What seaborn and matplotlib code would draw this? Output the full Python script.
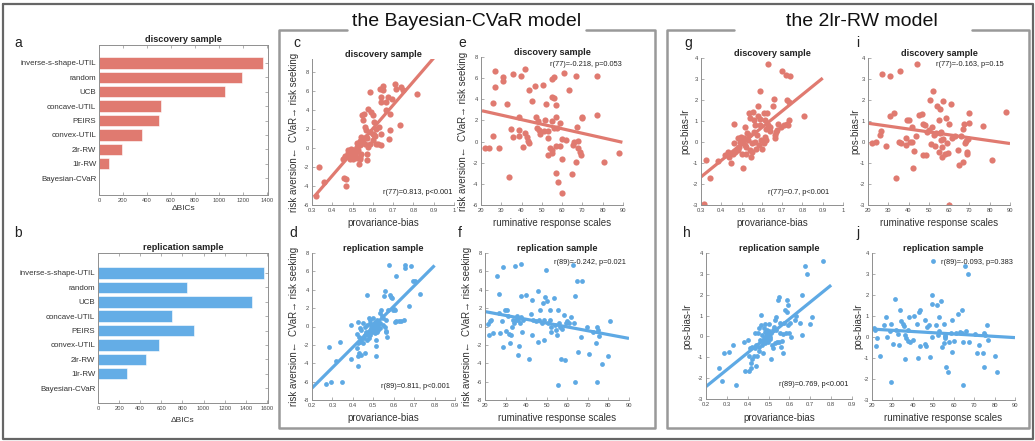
import numpy as np
import pandas as pd
import matplotlib
matplotlib.use("Agg")
import matplotlib.pyplot as plt
from matplotlib.lines import Line2D
from matplotlib.ticker import FuncFormatter
import seaborn as sns

# ---------------- data ----------------
models = ["inverse-s-shape-UTIL", "random", "UCB", "concave-UTIL", "PEIRS",
          "convex-UTIL", "2lr-RW", "1lr-RW", "Bayesian-CVaR"]
dbic_discovery = [1370, 1190, 1050, 520, 500, 355, 190, 80, 0]
dbic_replication = [1570, 840, 1455, 705, 905, 575, 455, 275, 0]

# panel c: provariance-bias vs CVaR (discovery)
c_pts = [(0.335,-1.97),(0.321,-5.1),(0.357,-3.55),(0.458,-3.1),(0.468,-3.27),(0.466,-3.97),
         (0.464,-0.82),(0.476,-0.5),(0.486,-1.2),(0.494,-0.93),(0.506,-0.78),(0.515,-0.4),
         (0.522,0.13),(0.532,-1.65),(0.535,-1.2),(0.543,1.17),(0.538,0.75),(0.548,3.45),
         (0.557,3.55),(0.56,2.2),(0.565,1.95),(0.57,1.1),(0.57,-0.58),(0.57,-1.28),
         (0.576,4.15),(0.584,5.9),(0.593,3.8),(0.6,3.5),(0.587,0.48),(0.6,0.83),(0.61,1.25),
         (0.617,2.05),(0.617,0.48),(0.627,0.48),(0.63,2.23),(0.634,6.25),(0.642,5.37),
         (0.65,6.6),(0.65,6.1),(0.642,4.85),(0.664,4.85),(0.667,3.97),(0.675,5.37),
         (0.683,3.62),(0.692,5.2),(0.678,1.0),(0.683,1.88),(0.708,6.77),(0.713,6.25),
         (0.733,2.4),(0.741,6.42),(0.749,6.15),(0.818,5.72),(0.527,-0.15),(0.535,0.3),
         (0.551,0.65),(0.56,0.4),(0.543,-0.65),(0.503,-1.1),(0.49,-0.75),(0.478,-0.85),
         (0.51,-0.58),(0.522,0.55),(0.587,1.7),(0.565,1.17),(0.535,-0.93),(0.576,0.13),
         (0.605,1.35),(0.64,1.53),(0.642,0.37),(0.608,2.75),(0.551,2.93),(0.461,-0.93),
         (0.453,-1.2),(0.494,-0.05),(0.478,-0.22),(0.503,-0.22),(0.6,1.53),(0.52,-1.0)]

# panel e: ruminative response scales vs CVaR (discovery)
e_pts = [(21.8,-0.63),(23.8,-0.63),(25.7,3.63),(25.7,0.54),(26.7,6.7),(26.7,5.15),(29,-0.6),
         (30.8,6.1),(30.8,5.75),(32.8,3.57),(33.9,-3.38),(34.7,1.2),(35.7,6.35),(35.7,0.47),
         (38.5,2.37),(38.8,1.1),(38.8,0.54),(39.6,6.23),(40.6,-0.54),(41.7,6.86),(41.7,0.8),
         (42.6,0.47),(43.4,0.1),(43.7,4.9),(43.7,-0.1),(45,3.8),(46.8,5.28),(47.2,2.37),
         (47.5,1.26),(48.3,1.9),(48.8,1.1),(49.1,0.73),(50.8,5.37),(51.3,1.04),(51.6,2.05),
         (52.1,3.57),(52.9,1.04),(52.9,-1.26),(53.2,0.32),(54,-0.57),(54.9,5.9),(55,4.17),
         (55,1.99),(55,-0.79),(55.2,-1.04),(56,6.07),(56,4.1),(56.1,1.26),(57,3.48),(57,2.3),
         (57,-0.38),(57,-3.0),(57.3,1.26),(57.8,-3.86),(58.9,1.8),(58.9,-0.38),(59.8,0.22),
         (60.1,-1.64),(60.1,-4.9),(61.1,6.48),(61.9,0.16),(63.6,4.9),(64.7,-3.07),(65.2,-0.32),
         (66,0.0),(66.8,6.23),(66.8,-1.9),(67.5,1.42),(68,0.1),(68,-0.63),(68.8,-0.95),
         (69.1,-1.26),(69.9,2.37),(69.9,2.2),(77,2.53),(77,6.23),(80.7,-1.96),(88.1,-1.1)]

# panel d: provariance-bias vs CVaR (replication)
d_pts = [(0.267,-6.29),(0.295,-6.07),(0.348,-6.07),(0.283,-2.18),(0.316,-3.75),(0.335,-1.64),
         (0.392,-3.53),(0.392,0.18),(0.424,-3.2),(0.424,-4.25),(0.425,0.47),(0.429,-2.9),
         (0.441,-3.1),(0.458,-2.83),(0.42,-0.8),(0.43,-1.09),(0.433,-0.18),(0.441,-0.36),
         (0.45,-1.82),(0.453,-1.27),(0.458,-0.91),(0.463,-0.65),(0.469,3.45),(0.469,-1.45),
         (0.474,-0.91),(0.479,-0.55),(0.482,0.36),(0.485,0.73),(0.485,-0.91),(0.49,-0.18),
         (0.49,0.18),(0.495,-0.55),(0.499,0.91),(0.499,0.07),(0.502,-0.36),(0.507,0.47),
         (0.507,-0.73),(0.512,0.0),(0.512,-2.1),(0.512,-3.16),(0.518,0.73),(0.523,0.18),
         (0.523,-0.36),(0.531,0.36),(0.535,1.45),(0.539,1.82),(0.543,1.09),(0.547,0.91),
         (0.551,3.35),(0.556,3.82),(0.556,0.0),(0.561,0.73),(0.561,-0.44),(0.564,-0.65),
         (0.567,-1.09),(0.575,6.73),(0.58,3.45),(0.585,3.2),(0.591,3.09),(0.596,1.82),
         (0.6,1.93),(0.605,1.82),(0.605,0.47),(0.61,5.45),(0.613,0.55),(0.624,0.62),
         (0.637,0.62),(0.649,0.73),(0.657,6.73),(0.657,6.4),(0.683,6.62),(0.675,2.18),
         (0.694,4.91),(0.702,4.91),(0.727,3.53),(0.572,1.82),(0.531,-0.18),(0.469,0.18),
         (0.45,0.36),(0.479,-1.27),(0.515,-1.45),(0.547,0.18),(0.458,0.0),(0.441,-1.45),
         (0.433,-1.64),(0.425,-1.82),(0.42,-2.36),(0.5,0.3),(0.52,-0.6),(0.48,0.9)]

# panel f: ruminative response scales vs CVaR (replication)
f_pts = [(21.6,0.29),(21.9,-0.91),(22.4,0.55),(22.9,0.73),(24,-0.73),(25.7,5.45),(26.8,3.53),
         (27,1.45),(27.3,-0.73),(28.1,0.55),(28.9,6.47),(28.9,-2.18),(29.7,1.82),(30.2,-0.44),
         (30.9,1.75),(31.3,1.09),(31.8,-0.8),(32.2,-1.82),(32.6,-0.91),(33.3,-0.07),(33.8,0.73),
         (34.3,0.36),(34.6,6.62),(34.9,0.73),(35.4,1.09),(35.9,-3.09),(36.2,0.73),(36.7,-2.1),
         (37.3,1.02),(37.5,6.8),(37.5,3.35),(37.8,-0.65),(38.6,0.73),(39.9,3.45),(41.6,-3.53),
         (42.4,1.38),(42.7,2.91),(42.7,-0.91),(44.8,0.55),(45.6,3.82),(45.9,-1.64),(46.4,0.73),
         (46.7,1.82),(47.6,0.36),(48.0,2.55),(48.7,-1.45),(48.8,0.73),(49.2,3.2),(49.7,6.18),
         (50,2.73),(50.5,0.36),(51.6,1.82),(51.6,0.73),(51.9,0.0),(51.9,-0.55),(53.5,3.09),
         (54,0.18),(54.5,-0.36),(54.8,-0.91),(55.3,1.82),(55.7,-6.36),(56.1,0.36),(56.5,0.0),
         (57,-3.53),(57.6,-0.29),(58.4,1.27),(58.9,-3.64),(59.4,0.36),(59.7,0.55),(61,0.36),
         (61.6,1.02),(62.9,6.73),(63.4,0.36),(63.8,3.35),(63.8,-6.0),(64.6,4.98),(65.4,-2.8),
         (66.7,-1.09),(67,4.91),(69.8,-0.07),(70.7,-2.98),(72.7,-0.65),(73.8,-1.82),(74.3,-6.0),
         (74.6,0.0),(74.8,-0.36),(75.6,-1.02),(76.7,-4.11),(79.6,-3.16),(80.8,0.55),
         (37,0.36),(43.5,0.73)]

# panel g: provariance-bias vs pos-bias-lr (discovery)
g_pts = [(0.313,-2.97),(0.325,-0.86),(0.346,-1.7),(0.382,-0.91),(0.42,-0.63),(0.433,-0.47),
         (0.437,-0.7),(0.448,-1.02),(0.458,-0.58),(0.464,-0.07),(0.464,0.88),(0.469,-0.47),
         (0.48,-0.39),(0.485,-0.23),(0.494,0.01),(0.499,0.25),(0.502,-0.55),(0.506,-1.26),
         (0.51,0.17),(0.515,-0.15),(0.519,0.72),(0.524,-0.26),(0.524,-0.55),(0.53,0.09),
         (0.535,1.36),(0.535,0.33),(0.54,-0.39),(0.543,1.12),(0.547,-0.7),(0.552,-0.07),
         (0.555,1.43),(0.56,0.48),(0.563,1.04),(0.565,0.01),(0.568,0.8),(0.571,-0.31),
         (0.576,0.33),(0.58,1.7),(0.581,1.23),(0.584,-0.15),(0.589,2.43),(0.593,1.09),
         (0.596,0.09),(0.601,-0.31),(0.609,-0.07),(0.613,1.4),(0.614,0.25),(0.621,0.64),
         (0.622,0.09),(0.626,1.36),(0.629,3.7),(0.631,0.8),(0.639,0.72),(0.642,0.52),
         (0.654,1.7),(0.659,2.04),(0.664,0.2),(0.667,0.33),(0.671,0.48),(0.675,0.56),
         (0.68,0.88),(0.695,0.72),(0.7,3.38),(0.711,0.8),(0.721,3.21),(0.724,1.99),
         (0.724,0.88),(0.729,0.8),(0.733,1.07),(0.738,3.14),(0.733,1.91),(0.807,1.24),
         (0.48,0.17),(0.507,-0.07),(0.527,0.41),(0.552,-0.47),(0.593,0.8),(0.617,1.04)]

# panel i: ruminative response scales vs pos-bias-lr (discovery)
i_pts = [(22,-0.07),(23.9,-0.02),(25.7,0.33),(26.4,0.52),(26.9,3.22),(28.9,-0.2),(30.7,1.24),
         (31,3.14),(32.95,1.36),(33.9,-1.7),(35.1,0.01),(35.9,3.38),(36.2,-0.04),(38.9,0.17),
         (38.9,-0.15),(39.2,1.07),(40,1.04),(40.8,0.01),(41.6,0.72),(41.6,-0.02),(42,-1.23),
         (42.5,-0.42),(43.8,0.28),(44.1,3.7),(44.9,1.28),(46.6,1.33),(46.9,0.85),(47,-0.63),
         (48.2,0.8),(48.7,-0.6),(49,0.48),(50.2,0.56),(50.7,2.02),(51,-0.1),(51.5,0.72),
         (52,2.42),(52.6,0.33),(53.1,-0.18),(53.6,0.44),(54,1.7),(54.8,-0.47),(55.1,1.04),
         (55.3,0.44),(55.6,1.59),(55.9,0.48),(56.1,0.09),(56.4,-0.23),(56.7,-0.7),(56.9,1.96),
         (57.2,0.12),(58,-0.55),(58.5,1.15),(58.9,-0.07),(59.3,-0.52),(59.7,-3.0),(60,0.88),
         (60.8,1.83),(61.3,0.2),(63,0.28),(64.6,-0.36),(65,-1.1),(65.7,0.28),(66.7,0.6),
         (67,-0.97),(67.5,0.85),(67.9,-0.07),(68.4,0.06),(68.7,-0.55),(69,-0.47),(69.2,0.14),
         (70,1.39),(70,0.91),(76.9,0.77),(81,-0.86),(88,1.43)]

# panel h: provariance-bias vs pos-bias-lr (replication)
h_pts = [(0.261,-1.52),(0.277,-2.16),(0.288,-0.8),(0.312,-0.76),(0.328,-0.41),(0.346,-2.32),
         (0.384,-0.25),(0.386,-1.68),(0.405,-1.68),(0.408,-0.96),(0.413,-0.57),(0.416,-1.28),
         (0.418,-1.49),(0.421,-1.09),(0.429,-0.93),(0.434,0.18),(0.44,-1.44),(0.442,-0.41),
         (0.445,-0.96),(0.448,0.15),(0.453,-0.49),(0.456,0.39),(0.461,-0.17),(0.464,1.02),
         (0.466,0.55),(0.469,0.07),(0.469,-0.41),(0.474,-0.25),(0.477,0.39),(0.48,-0.06),
         (0.482,0.6),(0.485,0.23),(0.485,-0.33),(0.488,0.02),(0.49,-0.17),(0.493,0.31),
         (0.493,0.12),(0.496,-0.09),(0.498,-0.25),(0.501,0.07),(0.501,0.6),(0.504,0.28),
         (0.506,-0.01),(0.509,-0.14),(0.512,0.18),(0.514,-1.09),(0.517,-0.41),(0.52,0.31),
         (0.525,0.47),(0.53,-0.3),(0.533,0.79),(0.536,0.91),(0.538,0.31),(0.541,-0.25),
         (0.544,1.74),(0.549,1.87),(0.549,-0.25),(0.554,0.15),(0.557,0.63),(0.56,-0.49),
         (0.565,-0.22),(0.57,0.12),(0.576,0.66),(0.581,1.29),(0.584,0.15),(0.586,1.18),
         (0.589,1.77),(0.592,1.5),(0.594,0.55),(0.597,0.15),(0.602,0.66),(0.608,-0.01),
         (0.626,0.79),(0.632,0.98),(0.65,0.66),(0.658,1.98),(0.661,0.07),(0.677,3.36),
         (0.685,3.01),(0.698,0.58),(0.709,0.91),(0.762,3.6),(0.4,-0.17),(0.456,-0.72),
         (0.472,-0.8),(0.522,-0.57),(0.437,-0.57),(0.421,-0.49),(0.568,-0.8)]

# panel j: ruminative response scales vs pos-bias-lr (replication)
j_pts = [(20.8,0.41),(21.6,0.33),(22.1,-0.42),(22.4,-0.07),(24,-0.9),(25.7,0.56),(27,0.93),
         (27.3,-0.02),(28.6,0.29),(29.3,-2.13),(29.4,0.61),(30.3,-0.31),(31.1,1.83),(31.7,0.35),
         (32.7,0.12),(33,-0.39),(33.8,1.28),(34.3,0.77),(35,0.64),(35.5,0.51),(35.96,0.09),
         (36.3,-1.07),(36.8,-0.07),(37.4,-0.18),(37.6,0.35),(38.2,0.93),(38.7,-0.26),(40,-0.15),
         (40.4,0.99),(42.3,-1.02),(43.1,1.2),(43.3,1.28),(43.6,-0.44),(45.7,0.8),(46.1,-0.31),
         (46.4,-0.44),(46.9,0.48),(47.7,0.56),(48.5,-0.94),(49.3,1.99),(49.3,1.59),(50.1,3.6),
         (51.4,0.56),(51.8,1.54),(52.1,0.09),(52.6,0.96),(52.9,0.29),(53.9,1.72),(54.2,-0.47),
         (55,-0.28),(55.3,0.64),(55.5,0.04),(55.8,-0.07),(55.8,0.04),(56.2,-1.45),(57,-1.66),
         (57.5,-0.23),(58.6,0.17),(59.1,-0.7),(59.4,0.8),(60.2,-0.18),(61.2,0.17),(62.3,1.09),
         (63.2,0.25),(64.3,1.28),(64.5,-2.29),(64.5,-0.23),(65.3,3.36),(66.1,0.29),(67.2,3.01),
         (67.7,-0.23),(70.2,0.12),(71.3,-0.78),(72.4,-0.39),(74.2,-0.78),(74.6,-1.42),
         (74.9,0.2),(75.4,0.09),(76.2,0.56),(77,-0.15),(80.3,-0.92),(81.1,-1.68),(49.3,0.01),
         (42,0.64),(64,0.17)]

stats_text = {
    "c": "r(77)=0.813, p<0.001", "e": "r(77)=-0.218, p=0.053",
    "d": "r(89)=0.811, p<0.001", "f": "r(89)=-0.242, p=0.021",
    "g": "r(77)=0.7, p<0.001",   "i": "r(77)=-0.163, p=0.15",
    "h": "r(89)=0.769, p<0.001", "j": "r(89)=-0.093, p=0.383",
}

# ---------------- style ----------------
sns.set_theme(style="white")
plt.rcParams["font.family"] = ["Liberation Sans", "DejaVu Sans"]
RED = "#E07A70"
BLUE = "#5EA9E4"
BAR_RED = "#E07A70"
BAR_BLUE = "#64ADE6"
SPINE = "#8f8f8f"
TICK = "#4a4a4a"
TXT = "#222222"

W, H = 1035, 441
fig = plt.figure(figsize=(W / 100, H / 100), dpi=100)
fig.patch.set_facecolor("white")


def ax_px(l, t, r, b):
    return fig.add_axes([l / W, 1 - b / H, (r - l) / W, (b - t) / H])


def ftext(x, y, s, **kw):
    fig.text(x / W, 1 - y / H, s, **kw)


def fline(xs, ys, **kw):
    fig.add_artist(Line2D([x / W for x in xs], [1 - y / H for y in ys],
                          transform=fig.transFigure, **kw))


fmt = FuncFormatter(lambda v, p: f"{v:g}")


def style_axes(ax, box=False):
    for side in ["left", "bottom", "top", "right"]:
        ax.spines[side].set_visible(box or side in ("left", "bottom"))
        ax.spines[side].set_color(SPINE)
        ax.spines[side].set_linewidth(0.7)
    ax.tick_params(direction="in", length=2, width=0.5, colors=SPINE,
                   labelcolor=TICK, labelsize=4.2, pad=2,
                   top=box, right=box, left=True, bottom=True)


# ---------------- bar panels ----------------
def bar_panel(box, vals, color, xlim, xticks, ylim, title, letter, letter_xy, xlabel_y):
    ax = ax_px(*box)
    df = pd.DataFrame({"model": models, "dbic": vals})
    sns.barplot(data=df, x="dbic", y="model", orient="h", color=color, ax=ax,
                width=0.8, edgecolor="white", linewidth=0.4, saturation=1)
    ax.set_xlim(*xlim)
    ax.set_ylim(*ylim)
    ax.set_xticks(xticks)
    ax.xaxis.set_major_formatter(fmt)
    style_axes(ax, box=True)
    ax.tick_params(axis="y", labelsize=5.7, labelcolor="#333333", length=2)
    ax.tick_params(axis="y", which="both", left=False)
    ax.set_ylabel("")
    ax.set_xlabel("")
    ax.set_title(title, fontsize=6.6, fontweight="bold", color=TXT, pad=2)
    ftext((box[0] + box[2]) / 2, xlabel_y, "ΔBICs", ha="center", va="center",
          fontsize=6, color="#333333")
    ftext(letter_xy[0], letter_xy[1], letter, ha="center", va="center", fontsize=10, color=TXT)


bar_panel((99, 45, 268, 195), dbic_discovery, BAR_RED, (0, 1410),
          np.arange(0, 1401, 200), (9.18, -1.25), "discovery sample", "a", (18, 43), 208)
bar_panel((98, 253, 268, 403), dbic_replication, BAR_BLUE, (0, 1610),
          np.arange(0, 1601, 200), (9.04, -1.39), "replication sample", "b", (18, 233), 421)


# ---------------- scatter panels ----------------
def scatter_panel(box, pts, color, s, line_range, xlim, xticks, ylim, yticks,
                  title, xlabel, ylabel, letter, letter_xy, stat, stat_xy,
                  xlabel_y, ylabel_x):
    ax = ax_px(*box)
    df = pd.DataFrame(pts, columns=["x", "y"])
    ax.set_xlim(*line_range)
    sns.regplot(data=df, x="x", y="y", ax=ax, ci=None, truncate=False, color=color,
                scatter_kws=dict(s=s, linewidths=0, alpha=1),
                line_kws=dict(lw=2.3, solid_capstyle="butt"))
    ax.set_xlim(*xlim)
    ax.set_ylim(*ylim)
    ax.set_xticks(xticks)
    ax.set_yticks(yticks)
    ax.xaxis.set_major_formatter(fmt)
    ax.yaxis.set_major_formatter(fmt)
    style_axes(ax, box=False)
    ax.set_xlabel("")
    ax.set_ylabel("")
    ax.set_title(title, fontsize=6.6, fontweight="bold", color=TXT, pad=1.5)
    cx = (box[0] + box[2]) / 2
    cy = (box[1] + box[3]) / 2
    ftext(cx, xlabel_y, xlabel, ha="center", va="center", fontsize=7, color="#333333")
    ftext(ylabel_x, cy, ylabel, ha="center", va="center", rotation=90, fontsize=7,
          color="#333333")
    ftext(letter_xy[0], letter_xy[1], letter, ha="center", va="center", fontsize=10, color=TXT)
    ftext(stat_xy[0], stat_xy[1], stat, ha="right", va="center", fontsize=5.3, color=TXT)
    return ax


cvar_label = "risk aversion\u2190  CVaR\u2192 risk seeking"
lr_label = "pos-bias-lr"
pvb = "provariance-bias"
rrs = "ruminative response scales"

RS, BS = 20, 12
scatter_panel((312, 59, 454, 205), c_pts, RED, RS, (0.31, 0.9), (0.3, 1.0),
              np.arange(0.3, 1.01, 0.1), (-6, 9.4), np.arange(-6, 9, 2),
              "discovery sample", pvb, cvar_label, "c", (297, 43), stats_text["c"],
              (452, 192), 223, 294)
scatter_panel((481, 57, 623, 205), e_pts, RED, RS, (20.5, 89.7), (20, 90),
              np.arange(20, 91, 10), (-6, 8), np.arange(-6, 9, 2),
              "discovery sample", rrs, cvar_label, "e", (462, 43), stats_text["e"],
              (622, 65), 223, 463)
scatter_panel((312, 253, 455, 400), d_pts, BLUE, BS, (0.2, 0.8), (0.2, 0.9),
              np.arange(0.2, 0.91, 0.1), (-8, 8), np.arange(-8, 9, 2),
              "replication sample", pvb, cvar_label, "d", (293, 233), stats_text["d"],
              (450, 386), 418, 294)
scatter_panel((485, 253, 629, 400), f_pts, BLUE, BS, (20, 90), (20, 90),
              np.arange(20, 91, 10), (-8, 8), np.arange(-8, 9, 2),
              "replication sample", rrs, cvar_label, "f", (460, 233), stats_text["f"],
              (626, 262), 418, 467)
scatter_panel((701, 58, 843, 205), g_pts, RED, RS, (0.3, 0.9), (0.3, 1.0),
              np.arange(0.3, 1.01, 0.1), (-3, 4), np.arange(-3, 5, 1),
              "discovery sample", pvb, lr_label, "g", (688, 43), stats_text["g"],
              (829, 192), 223, 685)
scatter_panel((868, 58, 1010, 205), i_pts, RED, RS, (20, 90), (20, 90),
              np.arange(20, 91, 10), (-3, 4), np.arange(-3, 5, 1),
              "discovery sample", rrs, lr_label, "i", (858, 43), stats_text["i"],
              (1004, 65), 223, 855)
scatter_panel((706, 253, 852, 399), h_pts, BLUE, BS, (0.2, 0.8), (0.2, 0.9),
              np.arange(0.2, 0.91, 0.1), (-3, 4), np.arange(-3, 5, 1),
              "replication sample", pvb, lr_label, "h", (687, 233), stats_text["h"],
              (848, 385), 418, 687)
scatter_panel((872, 253, 1015, 400), j_pts, BLUE, BS, (20, 90), (20, 90),
              np.arange(20, 91, 10), (-3, 4), np.arange(-3, 5, 1),
              "replication sample", rrs, lr_label, "j", (858, 233), stats_text["j"],
              (1013, 262), 418, 858)

# ---------------- frames and group titles ----------------
OUTER = "#666666"
BOXC = "#999999"
fline([3, 1033, 1033, 3, 3], [4, 4, 439, 439, 4], color=OUTER, lw=1.6)
# Bayesian-CVaR box
fline([347, 279, 279, 655, 655, 586], [30, 30, 428, 428, 30, 30], color=BOXC, lw=1.8)
# 2lr-RW box
fline([734, 667, 667, 1029, 1029, 972], [30, 30, 428, 428, 30, 30], color=BOXC, lw=1.8)
ftext(467, 22, "the Bayesian-CVaR model", ha="center", va="center", fontsize=14, color="#111111")
ftext(862, 22, "the 2lr-RW model", ha="center", va="center", fontsize=14, color="#111111")

fig.savefig("out.png", dpi=100, facecolor="white")
